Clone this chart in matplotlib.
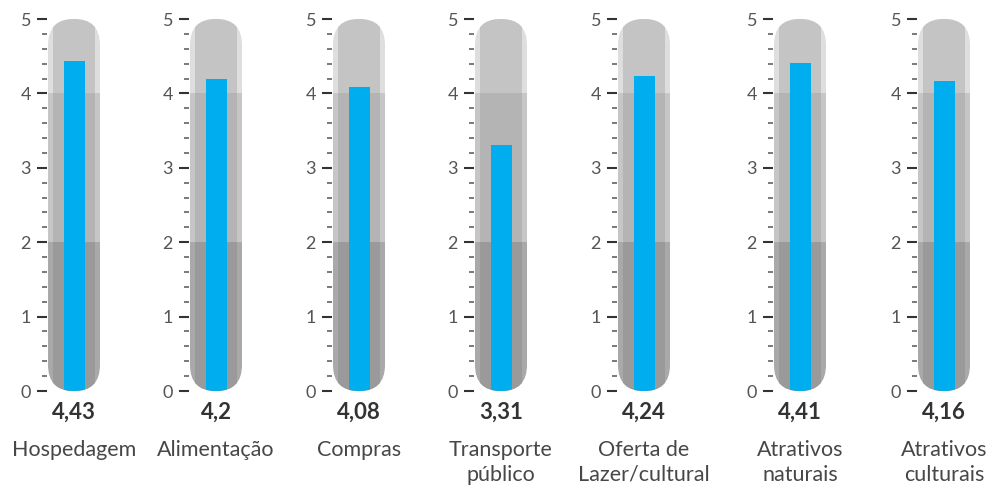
import matplotlib
matplotlib.use("Agg")
import matplotlib.pyplot as plt
from matplotlib.patches import FancyBboxPatch
from matplotlib.ticker import MultipleLocator

plt.rcParams['font.family'] = ['Lato', 'DejaVu Sans']

categories = ["Hospedagem", "Alimentação", "Compras", "Transporte\npúblico",
              "Oferta de\nLazer/cultural", "Atrativos\nnaturais", "Atrativos\nculturais"]
values = [4.43, 4.2, 4.08, 3.31, 4.24, 4.41, 4.16]
value_labels = ["4,43", "4,2", "4,08", "3,31", "4,24", "4,41", "4,16"]
band_edges = [0, 2, 4, 5]
tick_labels = ["0", "1", "2", "3", "4", "5"]

W, H = 992, 493
fig = plt.figure(figsize=(W / 100, H / 100), dpi=100)

tube_lefts = [48, 190, 333, 475, 618, 774, 918]
y0_px, y5_px = 391, 19
px_per_unit = (y0_px - y5_px) / 5.0
tube_w = 52
ax_w = 60

inner_colors = ["#9a9a9a", "#b4b4b4", "#c4c4c4"]
edge_colors = ["#a9a9a9", "#c6c6c6", "#dedede"]
blue = "#00aeef"

for i, (cat, val, vlab) in enumerate(zip(categories, values, value_labels)):
    left_px = tube_lefts[i] - 1
    ax = fig.add_axes([left_px / W, (H - y0_px) / H, ax_w / W, (y0_px - y5_px) / H])
    ax.set_xlim(0, ax_w)
    ax.set_ylim(0, 5)
    for s in ax.spines.values():
        s.set_visible(False)
    ax.patch.set_visible(False)

    x_left = 1
    xc = x_left + tube_w / 2
    tube = FancyBboxPatch((x_left, 0), tube_w, 5,
                          boxstyle=f"round,pad=0,rounding_size={tube_w/2}",
                          mutation_aspect=1 / px_per_unit,
                          facecolor="none", edgecolor="none")
    ax.add_patch(tube)

    for b in range(3):
        lo, hi = band_edges[b], band_edges[b + 1]
        bars = ax.bar([xc], [hi - lo], bottom=lo, width=tube_w,
                      color=edge_colors[b], linewidth=0)
        for p in bars:
            p.set_clip_path(tube)
        bars = ax.bar([xc], [hi - lo], bottom=lo, width=tube_w - 10,
                      color=inner_colors[b], linewidth=0)
        for p in bars:
            p.set_clip_path(tube)

    bars = ax.bar([xc], [val], bottom=0, width=21, color=blue, linewidth=0)
    for p in bars:
        p.set_clip_path(tube)

    ax.yaxis.set_major_locator(MultipleLocator(1))
    ax.yaxis.set_minor_locator(MultipleLocator(0.2))
    ax.set_yticks(range(6))
    ax.set_yticklabels(tick_labels)
    ax.tick_params(axis="y", which="major", direction="out", length=7.5, width=1.5,
                   color="#333333", labelsize=13, labelcolor="#555555", pad=4)
    ax.tick_params(axis="y", which="minor", direction="out", length=3.8, width=1.1,
                   color="#555555")
    ax.set_xticks([])

    ax.text(xc, -21 / px_per_unit, vlab, ha="center", va="center",
            fontsize=16, fontweight="bold", color="#333333")
    ax.text(xc, -49 / px_per_unit, cat, ha="center", va="top",
            fontsize=15.5, color="#474747", linespacing=1.3)

fig.savefig("out.png", dpi=100)
